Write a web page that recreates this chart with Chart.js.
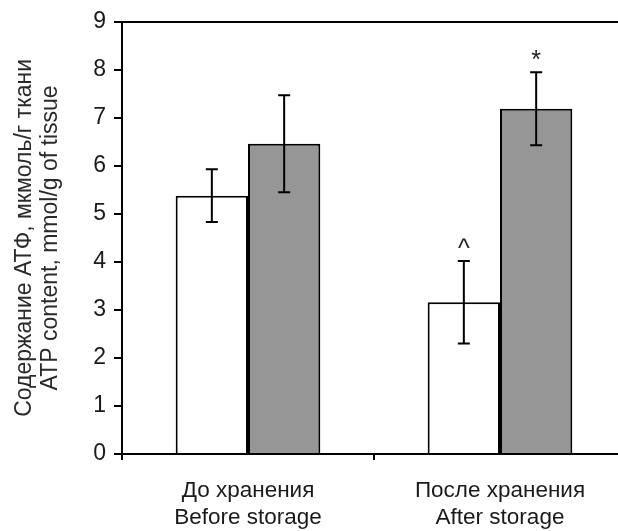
<!DOCTYPE html>
<html lang="ru">
  <head>
    <meta charset="utf-8">
    <title>ATP content</title>
    <script src="https://cdn.jsdelivr.net/npm/chart.js@4.4.0/dist/chart.umd.min.js"></script>
    <style>
      body { margin: 0; overflow: hidden; background: #fff; }
    </style>
  </head>
  <body>
    <canvas id="myChart" width="626" height="531"></canvas>
    <script>
      // data
      const categories = [["До хранения", "Before storage"], ["После хранения", "After storage"]];
      const whiteValues = [5.38, 3.16];
      const whiteErrors = [0.55, 0.86];
      const grayValues = [6.46, 7.19];
      const grayErrors = [1.01, 0.76];
      const whiteMarks = ["", "^"];
      const grayMarks = ["", "*"];
      const yTitle = ["Содержание АТФ, мкмоль/г ткани", "ATP content, mmol/g of tissue"];

      const errors = [whiteErrors, grayErrors];
      const marks = [whiteMarks, grayMarks];
      const font = "'Liberation Sans', Arial, sans-serif";
      const textColor = '#1a1a1a';

      // error bars + significance marks
      const errorBars = {
        id: 'errorBars',
        afterDatasetsDraw(chart) {
          const ctx = chart.ctx;
          const y = chart.scales.y;
          ctx.save();
          ctx.strokeStyle = '#000';
          ctx.lineWidth = 2;
          chart.data.datasets.forEach((ds, i) => {
            const meta = chart.getDatasetMeta(i);
            meta.data.forEach((bar, j) => {
              const v = ds.data[j], e = errors[i][j];
              const top = y.getPixelForValue(v + e);
              const bot = y.getPixelForValue(v - e);
              ctx.beginPath();
              ctx.moveTo(bar.x, top); ctx.lineTo(bar.x, bot);
              ctx.moveTo(bar.x - 6, top); ctx.lineTo(bar.x + 6, top);
              ctx.moveTo(bar.x - 6, bot); ctx.lineTo(bar.x + 6, bot);
              ctx.stroke();
              if (marks[i][j]) {
                ctx.fillStyle = '#222';
                ctx.font = '25px ' + font;
                ctx.textAlign = 'center';
                ctx.textBaseline = 'alphabetic';
                ctx.fillText(marks[i][j], bar.x, top - 4);
              }
            });
          });
          ctx.restore();
        }
      };

      new Chart(document.getElementById("myChart"), {
        type: 'bar',
        data: {
          labels: categories,
          datasets: [
            { data: whiteValues, backgroundColor: '#ffffff', borderColor: '#000', borderWidth: 2,
              categoryPercentage: 0.574, barPercentage: 1.0 },
            { data: grayValues, backgroundColor: '#969696', borderColor: '#000', borderWidth: 2,
              categoryPercentage: 0.574, barPercentage: 1.0 }
          ]
        },
        options: {
          responsive: false,
          animation: false,
          layout: { padding: { top: 20, left: 0, right: 0, bottom: 0 } },
          plugins: { legend: { display: false }, tooltip: { enabled: false } },
          scales: {
            x: {
              offset: true,
              grid: { offset: true, color: 'transparent', tickColor: '#000', tickLength: 6, lineWidth: 2 },
              border: { color: '#000', width: 2 },
              ticks: { color: textColor, font: { family: font, size: 22.5 }, padding: 17 },
              afterFit(scale) { scale.height = 77; }
            },
            y: {
              min: 0, max: 9,
              ticks: { stepSize: 1, color: textColor, font: { family: font, size: 23 }, padding: 8 },
              grid: {
                color: c => c.tick && c.tick.value === 9 ? '#000' : 'transparent',
                tickColor: '#000', tickLength: 8, lineWidth: 2
              },
              border: { color: '#000', width: 2 },
              title: { display: true, text: yTitle, color: '#2a2a2a', font: { family: font, size: 23, lineHeight: 1.15 }, padding: { top: 11, bottom: 0 } },
              afterFit(scale) { scale.width = 122; }
            }
          }
        },
        plugins: [errorBars]
      });
    </script>
  </body>
</html>
